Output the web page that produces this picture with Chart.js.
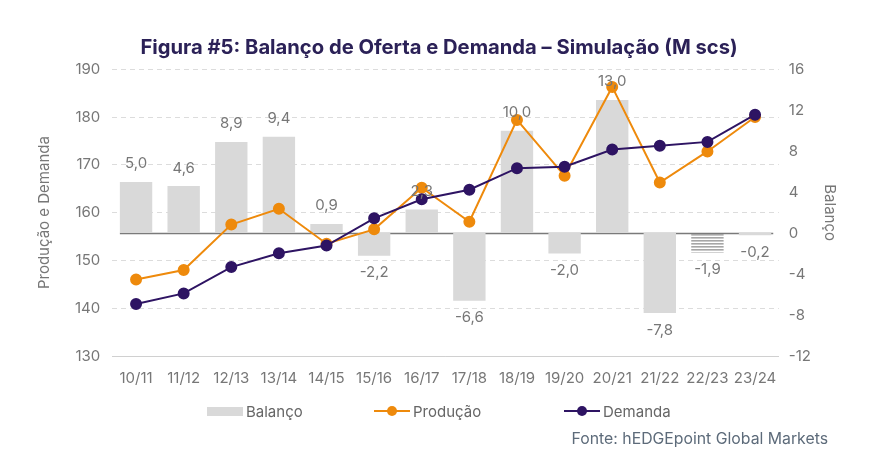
<!DOCTYPE html>
<html><head><meta charset="utf-8">
<script src="https://cdn.jsdelivr.net/npm/chart.js@4.4.0/dist/chart.umd.min.js"></script>
<style>
html,body{margin:0;padding:0;background:#fff;}
#wrap{position:relative;width:875px;height:452px;font-family:Inter,"Noto Sans",sans-serif;}
canvas{position:absolute;left:0;top:0;}
.li{position:absolute;top:402px;height:18px;display:flex;align-items:center;font-size:15px;color:#666;white-space:nowrap;}
.sw{display:inline-block;width:36px;height:9px;background:#d9d9d9;margin-right:3px;}
.ln{position:relative;display:inline-block;width:36px;height:18px;margin-right:3px;}
.ln:before{content:"";position:absolute;left:0;right:0;top:8px;height:2px;background:var(--c);}
.ln:after{content:"";position:absolute;left:13px;top:4px;width:10px;height:10px;border-radius:50%;background:var(--c);}
#src{position:absolute;left:0;width:828px;text-align:right;top:429px;font-size:15.8px;color:#5d6b7a;}
</style></head><body>
<div id="wrap">
<canvas id="c" width="875" height="452"></canvas>
<div class="li" style="left:207px"><span class="sw"></span>Balanço</div>
<div class="li" style="left:374px"><span class="ln" style="--c:#ee8a0c"></span>Produção</div>
<div class="li" style="left:564px"><span class="ln" style="--c:#2e1463"></span>Demanda</div>
<div id="src">Fonte: hEDGEpoint Global Markets</div>
</div>
<script>
const categories = ["10/11","11/12","12/13","13/14","14/15","15/16","16/17","17/18","18/19","19/20","20/21","21/22","22/23","23/24"];
const balanco = [5.0,4.6,8.9,9.4,0.9,-2.2,2.3,-6.6,10.0,-2.0,13.0,-7.8,-1.9,-0.2];
const producao = [146.0,148.0,157.5,160.8,153.5,156.5,165.2,158.1,179.4,167.7,186.3,166.3,172.8,180.0];
const demanda = [140.9,143.1,148.6,151.5,153.1,158.8,162.8,164.8,169.3,169.6,173.2,174.0,174.8,180.5];
const hatchedIndex = 12;

const TXT = '#777';
const FONT = 'Inter, "Noto Sans", sans-serif';
const FS = 15;

function hatch(){
  const p = document.createElement('canvas'); p.width = 4; p.height = 3;
  const g = p.getContext('2d');
  g.fillStyle = '#a6a6a6'; g.fillRect(0,0,4,1.6);
  return g.createPattern(p,'repeat');
}
const ctx = document.getElementById('c').getContext('2d');
const hp = hatch();
const barColors = balanco.map((v,i)=> i===hatchedIndex ? hp : '#d9d9d9');

const fmt = v => v.toFixed(1).replace('.', ',');
const BAR_DS = 2;

const extras = {
  id:'extras',
  beforeDatasetsDraw(chart){
    const y1 = chart.scales.y1;
    const meta = chart.getDatasetMeta(BAR_DS);
    const first = meta.data[0], last = meta.data[meta.data.length-1];
    const c = chart.ctx; c.save();
    c.strokeStyle = '#7a7a7a'; c.lineWidth = 1.5;
    const y0 = Math.round(y1.getPixelForValue(0)) + 0.5;
    c.beginPath(); c.moveTo(first.x - first.width/2, y0); c.lineTo(last.x + last.width/2 + 2, y0); c.stroke();
    c.restore();
  },
  afterDatasetsDraw(chart){
    const meta = chart.getDatasetMeta(BAR_DS);
    const c = chart.ctx; c.save();
    c.fillStyle = '#777'; c.font = FS + 'px ' + FONT; c.textAlign = 'center'; c.textBaseline = 'middle';
    meta.data.forEach((el,i)=>{
      const v = balanco[i];
      const y = v >= 0 ? Math.min(el.y, el.base) - 18 : Math.max(el.y, el.base) + 17;
      c.fillText(fmt(v), el.x, y);
    });
    c.restore();
  }
};

new Chart(ctx, {
  data:{
    labels: categories,
    datasets:[
      {type:'line', label:'Demanda', data:demanda, yAxisID:'y', borderColor:'#2e1463', backgroundColor:'#2e1463', borderWidth:2, pointRadius:5, pointHoverRadius:5, order:1},
      {type:'line', label:'Produção', data:producao, yAxisID:'y', borderColor:'#ee8a0c', backgroundColor:'#ee8a0c', borderWidth:2, pointRadius:5, pointHoverRadius:5, order:2},
      {type:'bar', label:'Balanço', data:balanco, yAxisID:'y1', backgroundColor:barColors, barPercentage:0.68, categoryPercentage:1, order:3}
    ]
  },
  options:{
    responsive:false, animation:false,
    layout:{padding:{left:35, right:32, top:0, bottom:60}},
    plugins:{
      legend:{display:false}, tooltip:{enabled:false},
      title:{display:true, text:'Figura #5: Balanço de Oferta e Demanda – Simulação (M scs)', color:'#2b2157', font:{family:FONT, size:20.2, weight:'bold'}, padding:{top:36, bottom:9}}
    },
    scales:{
      x:{offset:true, grid:{display:false}, border:{display:true, color:'#d0d0d0'}, ticks:{color:TXT, font:{family:FONT,size:FS}, padding:5, maxRotation:0, minRotation:0, autoSkip:false}},
      y:{position:'left', min:130, max:190, ticks:{stepSize:10, color:TXT, font:{family:FONT,size:FS}, padding:12},
         grid:{color:'#dcdcdc', drawTicks:false}, border:{display:false, dash:[5,4]},
         title:{display:true, text:'Produção e Demanda', color:TXT, font:{family:FONT,size:FS}, padding:{top:0,bottom:10}}},
      y1:{position:'right', min:-12, max:16, ticks:{stepSize:4, color:TXT, font:{family:FONT,size:FS}, padding:10},
         grid:{display:false, drawTicks:false}, border:{display:false},
         title:{display:true, text:'Balanço', color:TXT, font:{family:FONT,size:FS}, padding:{top:4,bottom:0}}}
    }
  },
  plugins:[extras]
});
</script>
</body></html>
